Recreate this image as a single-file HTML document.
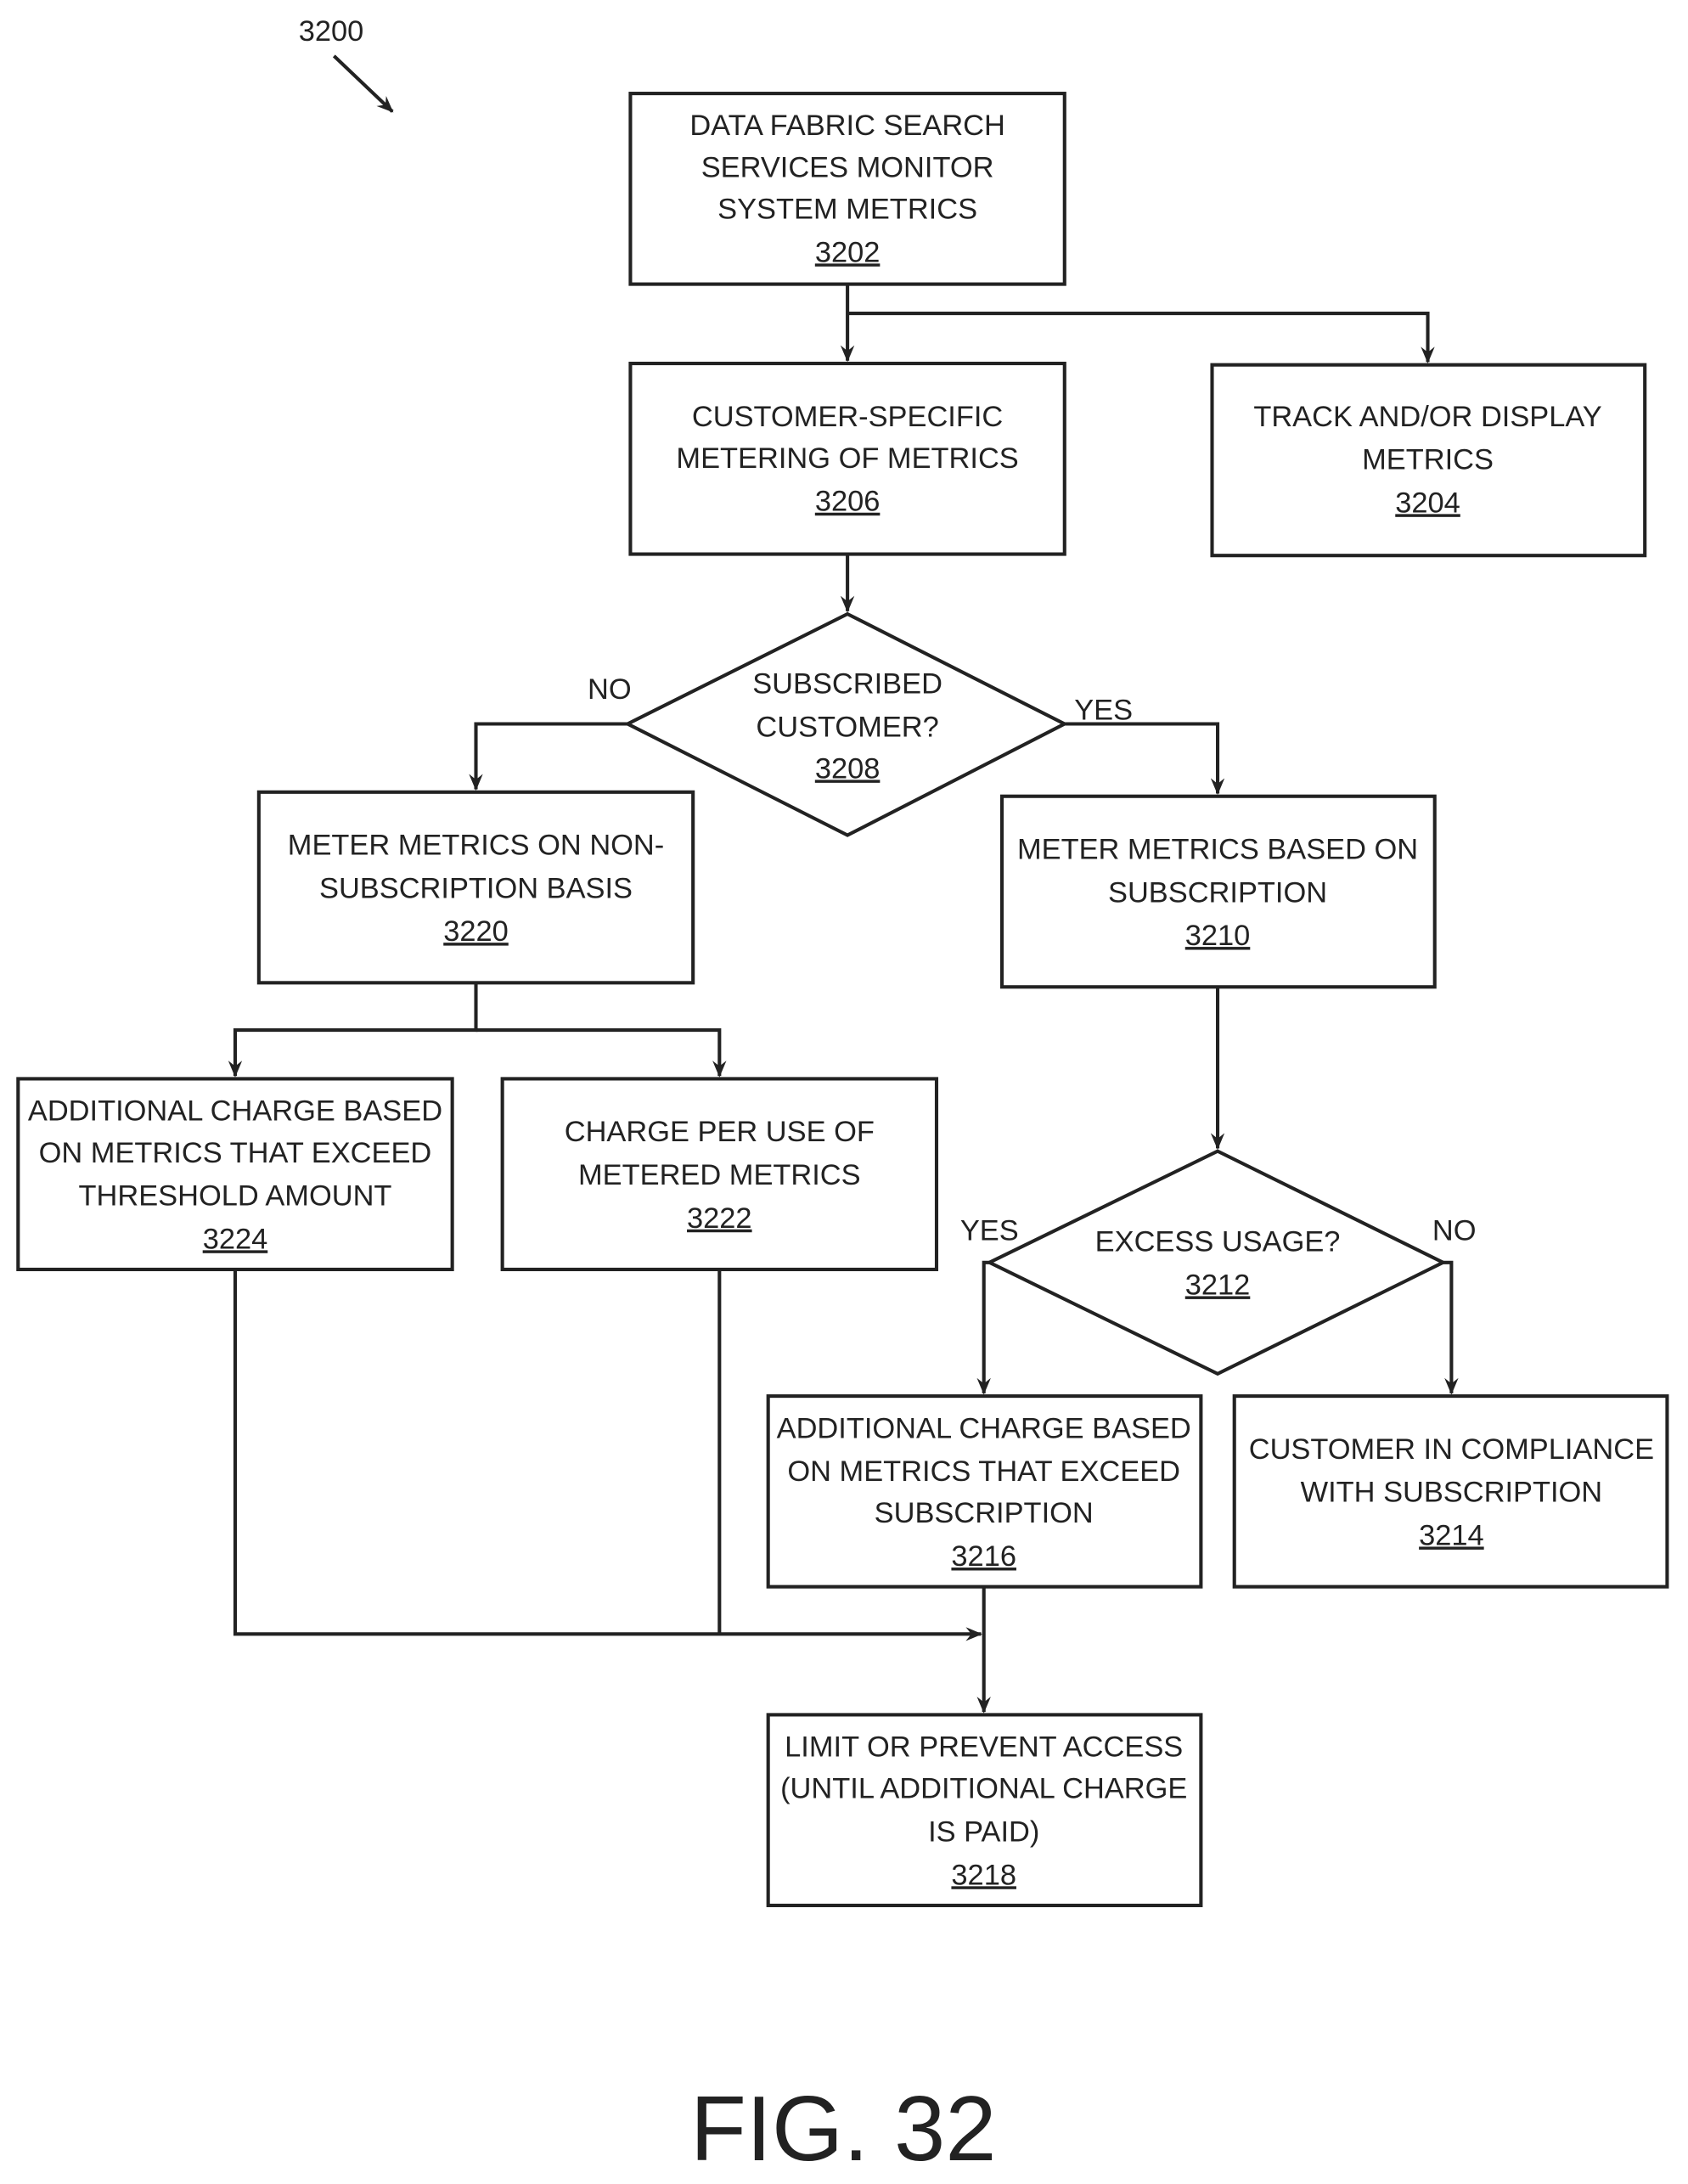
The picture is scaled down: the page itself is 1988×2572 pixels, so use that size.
<!DOCTYPE html>
<html><head><meta charset="utf-8"><style>
html,body{margin:0;padding:0;background:#fff;}
svg{display:block;}
text{font-family:"Liberation Sans",sans-serif;font-size:21px;fill:#222;text-anchor:middle;}
.u{text-decoration:underline;}
</style></head><body>
<svg width="1988" height="2572" viewBox="0 0 1213 1569" xmlns="http://www.w3.org/2000/svg">
<defs><marker id="a" markerWidth="12" markerHeight="10" refX="11" refY="5" orient="auto" markerUnits="userSpaceOnUse" viewBox="0 0 12 10"><path d="M0,0 L12,5 L0,10 L4,5 Z" fill="#222"/></marker></defs>
<g fill="none" stroke="#222" stroke-width="2.5">
<rect x="453" y="67" width="312" height="137"/>
<rect x="453" y="261" width="312" height="137"/>
<rect x="871" y="262" width="311" height="137"/>
<polygon points="609,441 765,520 609,600 451,520"/>
<rect x="186" y="569" width="312" height="137"/>
<rect x="720" y="572" width="311" height="137"/>
<rect x="13" y="775" width="312" height="137"/>
<rect x="361" y="775" width="312" height="137"/>
<polygon points="875,827 1037,907 875,987 711,907"/>
<rect x="552" y="1003" width="311" height="137"/>
<rect x="887" y="1003" width="311" height="137"/>
<rect x="552" y="1232" width="311" height="137"/>
<path d="M609,204 V259" marker-end="url(#a)"/>
<path d="M609,225 H1026 V260" marker-end="url(#a)"/>
<path d="M609,398 V439" marker-end="url(#a)"/>
<path d="M451,520 H342 V567" marker-end="url(#a)"/>
<path d="M765,520 H875 V570" marker-end="url(#a)"/>
<path d="M342,706 V740 H169 V773" marker-end="url(#a)"/>
<path d="M342,740 H517 V773" marker-end="url(#a)"/>
<path d="M875,709 V825" marker-end="url(#a)"/>
<path d="M711,907 H707 V1001" marker-end="url(#a)"/>
<path d="M1037,907 H1043 V1001" marker-end="url(#a)"/>
<path d="M169,912 V1174 H705" marker-end="url(#a)"/>
<path d="M517,912 V1174"/>
<path d="M707,1140 V1230" marker-end="url(#a)"/>
<path d="M240,40 L282,80" marker-end="url(#a)"/>
</g>
<text x="238" y="29">3200</text>
<text x="609" y="97">DATA FABRIC SEARCH</text>
<text x="609" y="127">SERVICES MONITOR</text>
<text x="609" y="157">SYSTEM METRICS</text>
<text x="609" y="188" class="u">3202</text>
<text x="609" y="306">CUSTOMER-SPECIFIC</text>
<text x="609" y="336">METERING OF METRICS</text>
<text x="609" y="367" class="u">3206</text>
<text x="1026" y="306">TRACK AND/OR DISPLAY</text>
<text x="1026" y="337">METRICS</text>
<text x="1026" y="368" class="u">3204</text>
<text x="609" y="498">SUBSCRIBED</text>
<text x="609" y="529">CUSTOMER?</text>
<text x="609" y="559" class="u">3208</text>
<text x="438" y="502">NO</text>
<text x="793" y="517">YES</text>
<text x="342" y="614">METER METRICS ON NON-</text>
<text x="342" y="645">SUBSCRIPTION BASIS</text>
<text x="342" y="676" class="u">3220</text>
<text x="875" y="617">METER METRICS BASED ON</text>
<text x="875" y="648">SUBSCRIPTION</text>
<text x="875" y="679" class="u">3210</text>
<text x="169" y="805">ADDITIONAL CHARGE BASED</text>
<text x="169" y="835">ON METRICS THAT EXCEED</text>
<text x="169" y="866">THRESHOLD AMOUNT</text>
<text x="169" y="897" class="u">3224</text>
<text x="517" y="820">CHARGE PER USE OF</text>
<text x="517" y="851">METERED METRICS</text>
<text x="517" y="882" class="u">3222</text>
<text x="875" y="899">EXCESS USAGE?</text>
<text x="875" y="930" class="u">3212</text>
<text x="711" y="891">YES</text>
<text x="1045" y="891">NO</text>
<text x="707" y="1033">ADDITIONAL CHARGE BASED</text>
<text x="707" y="1064">ON METRICS THAT EXCEED</text>
<text x="707" y="1094">SUBSCRIPTION</text>
<text x="707" y="1125" class="u">3216</text>
<text x="1043" y="1048">CUSTOMER IN COMPLIANCE</text>
<text x="1043" y="1079">WITH SUBSCRIPTION</text>
<text x="1043" y="1110" class="u">3214</text>
<text x="707" y="1262">LIMIT OR PREVENT ACCESS</text>
<text x="707" y="1292">(UNTIL ADDITIONAL CHARGE</text>
<text x="707" y="1323">IS PAID)</text>
<text x="707" y="1354" class="u">3218</text>
<text x="606" y="1552" style="font-size:66px">FIG. 32</text>
</svg>
</body></html>
